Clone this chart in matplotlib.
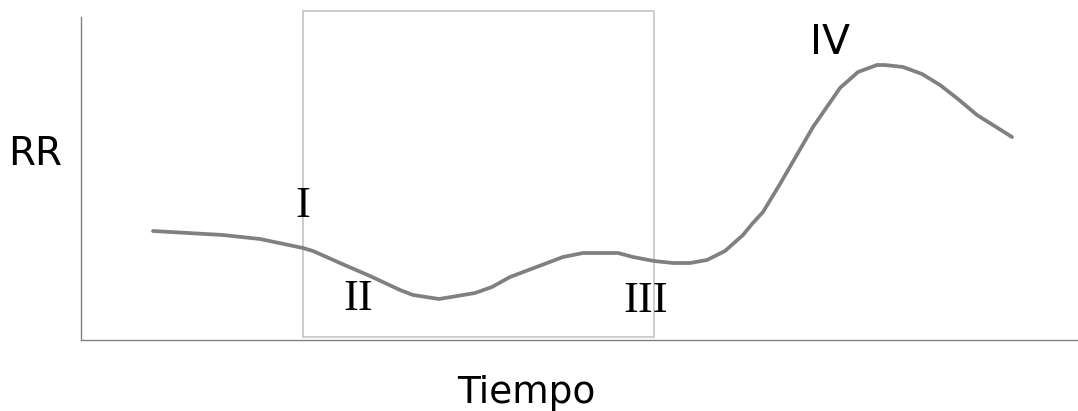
import matplotlib
matplotlib.use("Agg")
import matplotlib.pyplot as plt
from matplotlib.patches import Rectangle

# Data (arbitrary units)
tiempo = [7.2, 14.2, 17.9, 22.2, 23.2, 25.9, 28.9, 31.9, 33.2, 35.8, 39.4, 41.1,
          42.9, 48.2, 50.2, 53.7, 55.2, 57.3, 59.2, 60.9, 62.6, 64.4, 66.2, 67.1,
          68.2, 69.9, 73.2, 75.9, 77.7, 79.6, 80.4, 82.2, 84.1, 85.9, 87.7, 89.6, 93.1]
rr = [10.9, 10.5, 10.1, 9.2, 8.9, 7.7, 6.4, 5.0, 4.5, 4.1, 4.7, 5.3,
      6.3, 8.3, 8.7, 8.7, 8.3, 7.9, 7.7, 7.7, 8.0, 8.9, 10.5, 11.6,
      12.8, 15.6, 21.3, 25.2, 26.8, 27.5, 27.5, 27.3, 26.6, 25.5, 24.1, 22.5, 20.3]

phase_labels = ["I", "II", "III", "IV"]
phase_x = [22.2, 27.7, 56.5, 74.9]
phase_y = [12.3, 2.95, 2.8, 28.6]

box_x = [22.2, 57.3]
box_y = [0.3, 32.9]

fig = plt.figure(figsize=(10.78, 4.11), dpi=100)
ax = fig.add_axes([81/1078, 71/411, 997/1078, 323/411])
ax.set_xlim(0, 99.7)
ax.set_ylim(0, 32.3)

ax.plot(tiempo, rr, color="#808080", lw=2.7, solid_capstyle="round",
        solid_joinstyle="round", zorder=3)

rect = Rectangle((box_x[0], box_y[0]), box_x[1] - box_x[0], box_y[1] - box_y[0],
                 fill=False, edgecolor="#c8c8c8", lw=1.3, clip_on=False, zorder=2)
ax.add_patch(rect)

for lab, x, y in zip(phase_labels, phase_x, phase_y):
    fam = "DejaVu Sans" if lab == "IV" else "Liberation Serif"
    fs = 29.5 if lab == "IV" else 32
    ax.text(x, y, lab, ha="center", va="baseline", fontsize=fs, family=fam,
            color="black", zorder=4, clip_on=False)

for s in ["top", "right"]:
    ax.spines[s].set_visible(False)
for s in ["left", "bottom"]:
    ax.spines[s].set_color("#808080")
    ax.spines[s].set_linewidth(1.0)
ax.set_xticks([])
ax.set_yticks([])

fig.text(35/1078, 1 - 165/411, "RR", ha="center", va="baseline", fontsize=28,
         family="DejaVu Sans")
fig.text(526/1078, 1 - 403/411, "Tiempo", ha="center", va="baseline", fontsize=27,
         family="DejaVu Sans")

fig.savefig("out.png", dpi=100, facecolor="white")
